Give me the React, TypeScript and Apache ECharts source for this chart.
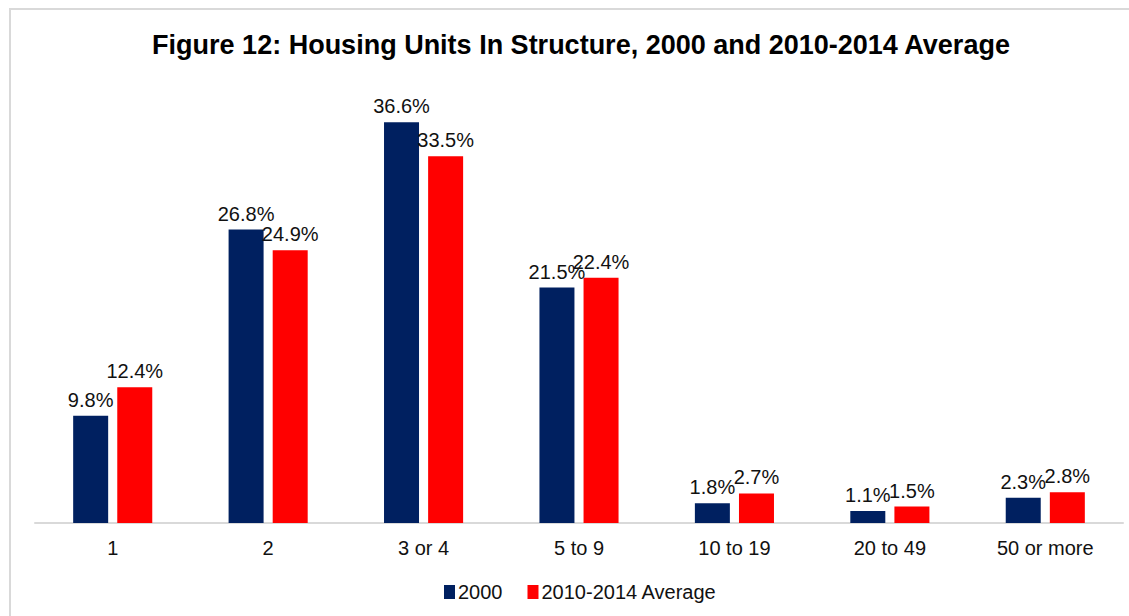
import React, { useEffect, useRef } from "react";
import * as echarts from "echarts";

const categories = ["1", "2", "3 or 4", "5 to 9", "10 to 19", "20 to 49", "50 or more"];
const series2000 = [9.8, 26.8, 36.6, 21.5, 1.8, 1.1, 2.3];
const series2010 = [12.4, 24.9, 33.5, 22.4, 2.7, 1.5, 2.8];
const seriesNames = ["2000", "2010-2014 Average"];
const title = "Figure 12: Housing Units In Structure, 2000 and 2010-2014 Average";

const FONT = "'Liberation Sans', Arial, Helvetica, sans-serif";

export default function App() {
  const ref = useRef<HTMLDivElement>(null);
  useEffect(() => {
    if (!ref.current) return;
    const chart = echarts.init(ref.current, null, { renderer: "svg" });
    const label = {
      show: true,
      position: "top" as const,
      distance: 6,
      fontSize: 20,
      fontFamily: FONT,
      color: "#111",
      formatter: (p: any) => p.value.toFixed(1) + "%",
    };
    chart.setOption({
      animation: false,
      backgroundColor: "#fff",
      textStyle: { fontFamily: FONT },
      title: {
        text: title,
        left: 576,
        top: 26,
        textAlign: "center",
        textStyle: { fontSize: 27, fontWeight: "bold", color: "#000", fontFamily: FONT },
      },
      graphic: [
        { type: "line", shape: { x1: 9, y1: 9, x2: 1129, y2: 9 }, style: { stroke: "#d9d9d9", lineWidth: 2 } },
        { type: "line", shape: { x1: 10, y1: 8, x2: 10, y2: 616 }, style: { stroke: "#d9d9d9", lineWidth: 2 } },
      ],
      legend: {
        data: seriesNames,
        left: 439,
        top: 577,
        itemWidth: 11,
        itemHeight: 14,
        itemGap: 25,
        icon: "rect",
        textStyle: { fontSize: 20, color: "#111", fontFamily: FONT, padding: [0, 0, 0, -2] },
      },
      grid: { left: 35, right: 6, top: 85, bottom: 93 },
      xAxis: {
        type: "category",
        data: categories,
        axisLine: { lineStyle: { color: "#d9d9d9", width: 2 } },
        axisTick: { show: false },
        axisLabel: { fontSize: 20, color: "#111", fontFamily: FONT, margin: 15 },
      },
      yAxis: {
        type: "value",
        min: 0,
        max: 40,
        show: false,
        splitLine: { show: false },
      },
      series: [
        {
          name: seriesNames[0],
          type: "bar",
          data: series2000,
          barWidth: 35,
          barGap: "26%",
          itemStyle: { color: "#002060" },
          label,
        },
        {
          name: seriesNames[1],
          type: "bar",
          data: series2010,
          barWidth: 35,
          barGap: "26%",
          itemStyle: { color: "#ff0000" },
          label,
        },
      ],
    });
    return () => chart.dispose();
  }, []);
  return (
    <div
      ref={ref}
      style={{ position: "fixed", left: 0, top: 0, width: 1129, height: 616 }}
    />
  );
}
